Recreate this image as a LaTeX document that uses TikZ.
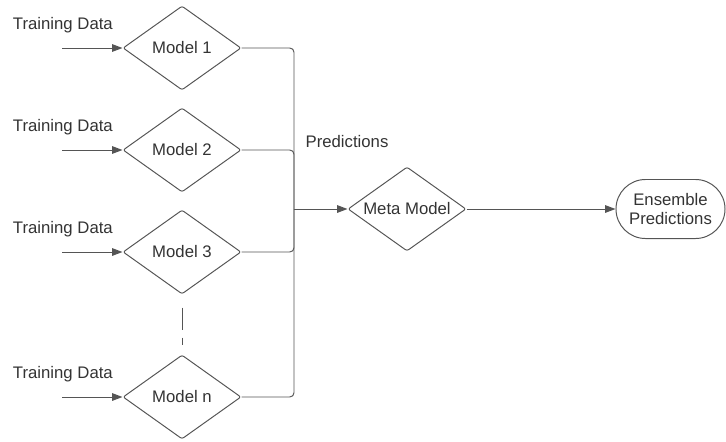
\documentclass[tikz,border=0pt]{standalone}
\usepackage{fontspec}
\setmainfont{Liberation Sans}
\usetikzlibrary{arrows.meta,shapes.geometric,shapes.misc}
\definecolor{ensInk}{HTML}{333333}
\definecolor{ensLine}{HTML}{555555}
\tikzset{
  ens wire/.style={draw=ensLine, line width=0.7pt, rounded corners=3pt},
  ens arrow/.style={ens wire, -{Triangle[length=2.6mm, width=1.9mm]}},
  ens gap/.style={draw=ensLine, line width=0.7pt, dash pattern=on 0.55cm off 0.2cm, shorten <=0.325cm, shorten >=0.225cm},
  ens model/.style={diamond, draw=ensLine, line width=0.7pt, aspect=1.4, minimum width=2.95cm, minimum height=2.1cm, inner sep=0pt, rounded corners=1.5pt, font=\fontsize{11.9}{14.2}\selectfont, text=ensInk},
  ens end/.style={rounded rectangle, draw=ensLine, line width=0.7pt, minimum width=2.725cm, minimum height=1.475cm, inner sep=0pt, align=center, font=\fontsize{11.9}{14.2}\selectfont, text=ensInk},
  ens label/.style={font=\fontsize{11.9}{14.2}\selectfont, text=ensInk},
}
\begin{document}
\begin{tikzpicture}[x=0.025cm, y=-0.025cm]
  \useasboundingbox (0,0) rectangle (726,442);
  % Base models, each fed with training data
  \foreach \y/\id/\name in {48/1/Model 1, 150/2/Model 2, 252/3/Model 3, 397/n/Model n} {
    \node[ens model] (m\id) at (182,\y) {\name};
    \coordinate (src\id) at (62,\y);
    \node[ens label, anchor=west] (td\id) at (8,\y-23) {Training Data};
    \draw[ens arrow] (src\id) -- (m\id);
  }
  % Gap between model 3 and model n
  \draw[ens gap] (m3.south) -- (mn.north);
  % Predictions collected on one bus
  \coordinate (bus) at (294,209);
  \foreach \id in {1,2,3,n} \draw[ens wire] (m\id.east) -| (bus);
  \node[ens label] (predlbl) at (347,142) {Predictions};
  % Meta model and output
  \node[ens model] (meta) at (407,209) {Meta Model};
  \draw[ens arrow] (bus) -- (meta);
  \node[ens end] (ens) at (670.5,209) {Ensemble\\Predictions};
  \draw[ens arrow] (meta) -- (ens);
\end{tikzpicture}
\end{document}
